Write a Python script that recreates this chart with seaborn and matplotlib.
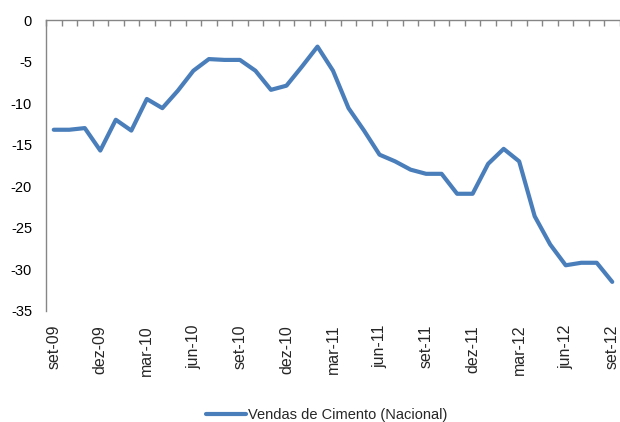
import numpy as np
import pandas as pd
import matplotlib
matplotlib.use("Agg")
import matplotlib.pyplot as plt
import seaborn as sns
from matplotlib.ticker import FixedLocator

months = ["set-09", "out-09", "nov-09", "dez-09", "jan-10", "fev-10", "mar-10", "abr-10",
          "mai-10", "jun-10", "jul-10", "ago-10", "set-10", "out-10", "nov-10", "dez-10",
          "jan-11", "fev-11", "mar-11", "abr-11", "mai-11", "jun-11", "jul-11", "ago-11",
          "set-11", "out-11", "nov-11", "dez-11", "jan-12", "fev-12", "mar-12", "abr-12",
          "mai-12", "jun-12", "jul-12", "ago-12", "set-12"]
vendas = [-13.2, -13.2, -13.0, -15.7, -12.0, -13.3, -9.5, -10.6,
          -8.5, -6.1, -4.7, -4.8, -4.8, -6.1, -8.4, -7.9,
          -5.6, -3.2, -6.1, -10.6, -13.3, -16.2, -17.0, -18.0,
          -18.5, -18.5, -20.9, -20.9, -17.3, -15.5, -17.0, -23.6,
          -27.0, -29.5, -29.2, -29.2, -31.5]
series_name = "Vendas de Cimento (Nacional)"
yticks = [0, -5, -10, -15, -20, -25, -30, -35]

sns.set_style("white")
plt.rcParams['font.family'] = ['Liberation Sans', 'DejaVu Sans']

df = pd.DataFrame({"pos": np.arange(len(months)), "valor": vendas, "serie": series_name})

fig = plt.figure(figsize=(6.2, 4.22), dpi=100)
ax = fig.add_axes([46/620, 1 - 311/422, 1 - 46/620, (311 - 20)/422])

sns.lineplot(data=df, x="pos", y="valor", hue="serie", palette=["#4A7EBB"],
             linewidth=3.0, ax=ax, legend=True)

ax.set_xlim(-0.5, 36.5)
ax.set_ylim(-35, 0)
ax.set_yticks(yticks)
ax.set_yticklabels([str(v) for v in yticks])
ax.tick_params(axis='y', length=0, pad=10, labelsize=10.5, colors='black')

ax.set_xticks(np.arange(0, len(months), 3))
ax.set_xticklabels([months[i] for i in range(0, len(months), 3)], rotation=90)
ax.xaxis.set_minor_locator(FixedLocator(np.arange(-0.5, len(months), 1)))
ax.tick_params(axis='x', which='major', length=0, pad=10, labelsize=11.5)
ax.tick_params(axis='x', which='minor', top=True, bottom=False, direction='in',
               length=4, width=1, color='#868686')

for s in ['right', 'bottom']:
    ax.spines[s].set_visible(False)
for s in ['top', 'left']:
    ax.spines[s].set_color('#868686')
    ax.spines[s].set_linewidth(1)

ax.set_xlabel("")
ax.set_ylabel("")
ax.grid(False)

h, l = ax.get_legend_handles_labels()
ax.get_legend().remove()
fig.legend(h, l, loc='center', bbox_to_anchor=(327/620, 1 - 415/422), frameon=False,
           fontsize=10.5, handlelength=2.7, handletextpad=0.2)

fig.savefig("out.png", dpi=100)
